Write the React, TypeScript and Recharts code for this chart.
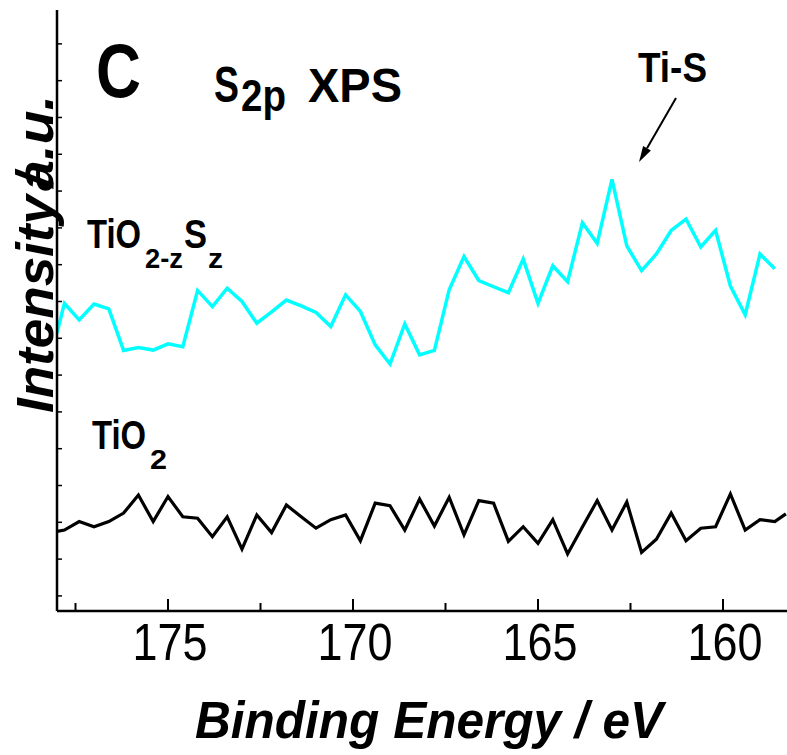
import { LineChart, Line, XAxis, YAxis, ReferenceLine, Customized } from 'recharts';

// binding energy (eV)
const energies = [
  178.0, 177.8, 177.4, 177.0, 176.6, 176.2, 175.8, 175.4, 175.0, 174.6,
  174.2, 173.8, 173.4, 173.0, 172.6, 172.2, 171.8, 171.4, 171.0, 170.6,
  170.2, 169.8, 169.4, 169.0, 168.6, 168.2, 167.8, 167.4, 167.0, 166.6,
  166.2, 165.8, 165.4, 165.0, 164.6, 164.2, 163.8, 163.4, 163.0, 162.6,
  162.2, 161.8, 161.4, 161.0, 160.6, 160.2, 159.8, 159.4, 159.0, 158.6,
  158.3,
];

// TiO2-zSz (cyan), offset intensity
const dopedIntensity = [
  8.15, 8.95, 8.5, 8.93, 8.8, 7.67, 7.75, 7.68, 7.85, 7.77,
  9.3, 8.86, 9.36, 9.0, 8.41, 8.72, 9.04, 8.88, 8.7, 8.32,
  9.18, 8.73, 7.82, 7.3, 8.39, 7.55, 7.67, 9.32, 10.22, 9.57,
  9.4, 9.24, 10.15, 8.95, 9.97, 9.54, 11.14, 10.58, 12.32, 10.51,
  9.84, 10.29, 10.93, 11.24, 10.48, 10.93, 9.42, 8.64, 10.29, 9.89,
  null,
];

// TiO2 (black)
const bareIntensity = [
  2.75, 2.79, 3.02, 2.88, 3.02, 3.25, 3.74, 3.02, 3.7, 3.15,
  3.11, 2.61, 3.15, 2.27, 3.2, 2.72, 3.47, 3.15, 2.84, 3.07,
  3.2, 2.5, 3.52, 3.45, 2.79, 3.63, 2.9, 3.68, 2.66, 3.59,
  3.52, 2.48, 2.88, 2.43, 3.07, 2.14, 2.87, 3.59, 2.79, 3.55,
  2.18, 2.54, 3.25, 2.5, 2.84, 2.88, 3.77, 2.79, 3.07, 3.02,
  3.23,
];

const xTicks = [177.5, 175, 172.5, 170, 167.5, 165, 162.5, 160];
const yTicks = [1, 2, 3, 4, 5, 6, 7, 8, 9, 10, 11, 12, 13, 14, 15, 16];

const data = energies.map((energy, i) => ({
  energy,
  doped: dopedIntensity[i],
  bare: bareIntensity[i],
}));

const FONT = "'Liberation Sans', Arial, Helvetica, sans-serif";
const FIT = 'spacingAndGlyphs';

function BottomTick(props: any) {
  const { x, y, payload } = props;
  const major = payload.value % 5 === 0;
  return (
    <g>
      <line x1={x} x2={x} y1={y} y2={y - (major ? 12 : 8)} stroke="#000" strokeWidth={2} />
      {major && (
        <text
          x={x + 2}
          y={y + 49}
          textAnchor="middle"
          fontFamily={FONT}
          fontSize={52}
          textLength={75}
          lengthAdjust={FIT}
          fill="#000"
        >
          {payload.value}
        </text>
      )}
    </g>
  );
}

function TopTick(props: any) {
  const { x, y } = props;
  return <line x1={x} x2={x} y1={y} y2={y + 3} stroke="#000" strokeWidth={1.5} />;
}

function LeftTick(props: any) {
  const { x, y } = props;
  return <line x1={x} x2={x + 5} y1={y} y2={y} stroke="#000" strokeWidth={1.5} />;
}

function Arrow(props: any) {
  const { x1, y1, x2, y2 } = props;
  const ang = Math.atan2(y2 - y1, x2 - x1);
  const len = 16;
  const half = 4.5;
  const bx = x2 - len * Math.cos(ang);
  const by = y2 - len * Math.sin(ang);
  const px = -Math.sin(ang) * half;
  const py = Math.cos(ang) * half;
  return (
    <g>
      <line x1={x1} y1={y1} x2={bx} y2={by} stroke="#000" strokeWidth={2} />
      <polygon points={`${x2},${y2} ${bx + px},${by + py} ${bx - px},${by - py}`} fill="#000" />
    </g>
  );
}

function Labels() {
  const bold = { fontFamily: FONT, fontWeight: 700, fill: '#000' } as const;
  return (
    <g>
      <text x={96} y={97} fontSize={76} textLength={45} lengthAdjust={FIT} {...bold}>C</text>

      <text {...bold} fontSize={48}>
        <tspan x={214} y={102} fontSize={50} textLength={25} lengthAdjust={FIT}>S</tspan>
        <tspan x={241} y={111} fontSize={44} textLength={45} lengthAdjust={FIT}>2p</tspan>
        <tspan x={308} y={102} textLength={94} lengthAdjust={FIT}>XPS</tspan>
      </text>

      <text x={638} y={82} fontSize={42} textLength={69} lengthAdjust={FIT} {...bold}>Ti-S</text>

      <text {...bold} fontSize={40}>
        <tspan x={87} y={248} textLength={54} lengthAdjust={FIT}>TiO</tspan>
        <tspan x={145} y={268} fontSize={27} textLength={38} lengthAdjust={FIT}>2-z</tspan>
        <tspan x={184} y={248} textLength={23} lengthAdjust={FIT}>S</tspan>
        <tspan x={208} y={268} fontSize={27} textLength={15} lengthAdjust={FIT}>z</tspan>
      </text>

      <text {...bold} fontSize={40}>
        <tspan x={92} y={449} textLength={54} lengthAdjust={FIT}>TiO</tspan>
        <tspan x={150} y={469} fontSize={27} textLength={17} lengthAdjust={FIT}>2</tspan>
      </text>

      <g transform="translate(53,413) rotate(-90)">
        <text {...bold} fontSize={52} fontStyle="italic">
          <tspan x={0} y={0} textLength={218} lengthAdjust={FIT}>Intensity</tspan>
          <tspan x={222} y={0} textLength={96} lengthAdjust={FIT}>a.u.</tspan>
          <tspan x={226} y={0} textLength={14} lengthAdjust={FIT}>/</tspan>
        </text>
      </g>

      <text x={195} y={738} fontSize={52} fontStyle="italic" textLength={468} lengthAdjust={FIT} {...bold}>
        Binding Energy / eV
      </text>
    </g>
  );
}

export default function App() {
  return (
    <div style={{ position: 'absolute', left: 0, top: 0, width: 787, height: 755, background: '#fff' }}>
      <LineChart width={787} height={755} data={data} margin={{ top: 10, right: 0, left: 0, bottom: 44 }}>
        <XAxis
          dataKey="energy"
          type="number"
          domain={[158.27, 178]}
          reversed
          allowDataOverflow
          ticks={xTicks}
          interval={0}
          tickSize={0}
          tickMargin={0}
          height={100}
          tickLine={false}
          axisLine={{ stroke: '#000', strokeWidth: 2.5 }}
          tick={<BottomTick />}
        />
        <XAxis
          xAxisId="top"
          orientation="top"
          dataKey="energy"
          type="number"
          domain={[158.27, 178]}
          reversed
          allowDataOverflow
          ticks={xTicks}
          interval={0}
          tickSize={0}
          tickMargin={0}
          height={0}
          tickLine={false}
          axisLine={{ stroke: '#000', strokeWidth: 2.5 }}
          tick={<TopTick />}
        />
        <YAxis
          type="number"
          domain={[0.59, 16.92]}
          allowDataOverflow
          ticks={yTicks}
          interval={0}
          width={57}
          tickSize={0}
          tickMargin={0}
          tickLine={false}
          axisLine={{ stroke: '#000', strokeWidth: 2.5 }}
          tick={<LeftTick />}
        />
        <Line
          type="linear"
          dataKey="bare"
          stroke="#000"
          strokeWidth={3.2}
          dot={false}
          isAnimationActive={false}
        />
        <Line
          type="linear"
          dataKey="doped"
          stroke="#00ffff"
          strokeWidth={3.5}
          dot={false}
          isAnimationActive={false}
        />
        <ReferenceLine
          segment={[
            { x: 161.27, y: 14.53 },
            { x: 162.27, y: 12.79 },
          ]}
          shape={<Arrow />}
        />
        <Customized component={<Labels />} />
      </LineChart>
    </div>
  );
}
